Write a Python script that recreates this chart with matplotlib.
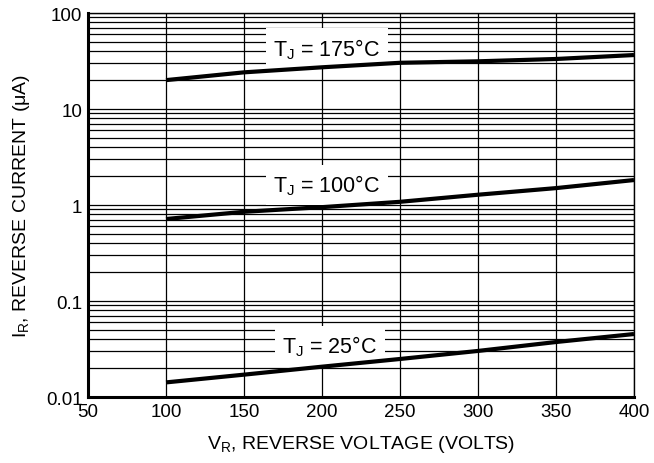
import matplotlib
matplotlib.use('Agg')
import matplotlib.pyplot as plt
from matplotlib.ticker import LogLocator, FixedLocator, NullFormatter

plt.rcParams['font.family'] = ['Liberation Sans', 'DejaVu Sans']
plt.rcParams['mathtext.fontset'] = 'custom'
plt.rcParams['mathtext.rm'] = 'Liberation Sans'
plt.rcParams['mathtext.it'] = 'Liberation Sans'

# reverse voltage (V)
volts = [100, 150, 200, 250, 300, 350, 400]
# reverse current (uA) per junction temperature
ir_175 = [20.0, 24.1, 27.2, 30.3, 31.4, 33.2, 36.5]
ir_100 = [0.715, 0.85, 0.95, 1.08, 1.28, 1.50, 1.82]
ir_25 = [0.0142, 0.0171, 0.0207, 0.0249, 0.0302, 0.0374, 0.0453]

labels = ['T$_\\mathregular{J}$ = 175°C', 'T$_\\mathregular{J}$ = 100°C', 'T$_\\mathregular{J}$ = 25°C']
label_x = [203, 203, 205]
label_y = [43, 1.62, 0.034]

x_ticks = [50, 100, 150, 200, 250, 300, 350, 400]
y_ticks = [0.01, 0.1, 1, 10, 100]
y_ticklabels = ['0.01', '0.1', '1', '10', '100']

fig = plt.figure(figsize=(6.54, 4.64), dpi=100)
ax = fig.add_axes([0.1346, 0.1422, 0.8348, 0.8276])

ax.set_yscale('log')
ax.set_xlim(50, 400)
ax.set_ylim(0.01, 100)

ax.xaxis.set_major_locator(FixedLocator(x_ticks))
ax.set_yticks(y_ticks)
ax.set_yticklabels(y_ticklabels)
ax.yaxis.set_minor_locator(LogLocator(base=10, subs=range(2, 10)))
ax.yaxis.set_minor_formatter(NullFormatter())

ax.grid(True, which='both', axis='y', color='black', lw=0.9)
ax.grid(True, which='major', axis='x', color='black', lw=0.9)
ax.tick_params(which='both', length=0, labelsize=13.5, pad=4)

for s in ['left', 'bottom']:
    ax.spines[s].set_linewidth(2.2)
for s in ['top', 'right']:
    ax.spines[s].set_linewidth(1.0)

# curves drawn over the label boxes so the boxes only hide gridlines
for ir in [ir_175, ir_100, ir_25]:
    ax.plot(volts, ir, color='black', lw=3.0, solid_capstyle='butt', zorder=5)

for lab, lx, ly in zip(labels, label_x, label_y):
    ax.text(lx, ly, lab, ha='center', va='center', fontsize=15.5, zorder=4,
            bbox=dict(facecolor='white', edgecolor='none', pad=5.5))

ax.set_xlabel('V$_\\mathregular{R}$, REVERSE VOLTAGE (VOLTS)', fontsize=14, labelpad=10)
ax.set_ylabel('I$_\\mathregular{R}$, REVERSE CURRENT (μA)', fontsize=14, labelpad=10)

fig.savefig('out.png', dpi=100)
